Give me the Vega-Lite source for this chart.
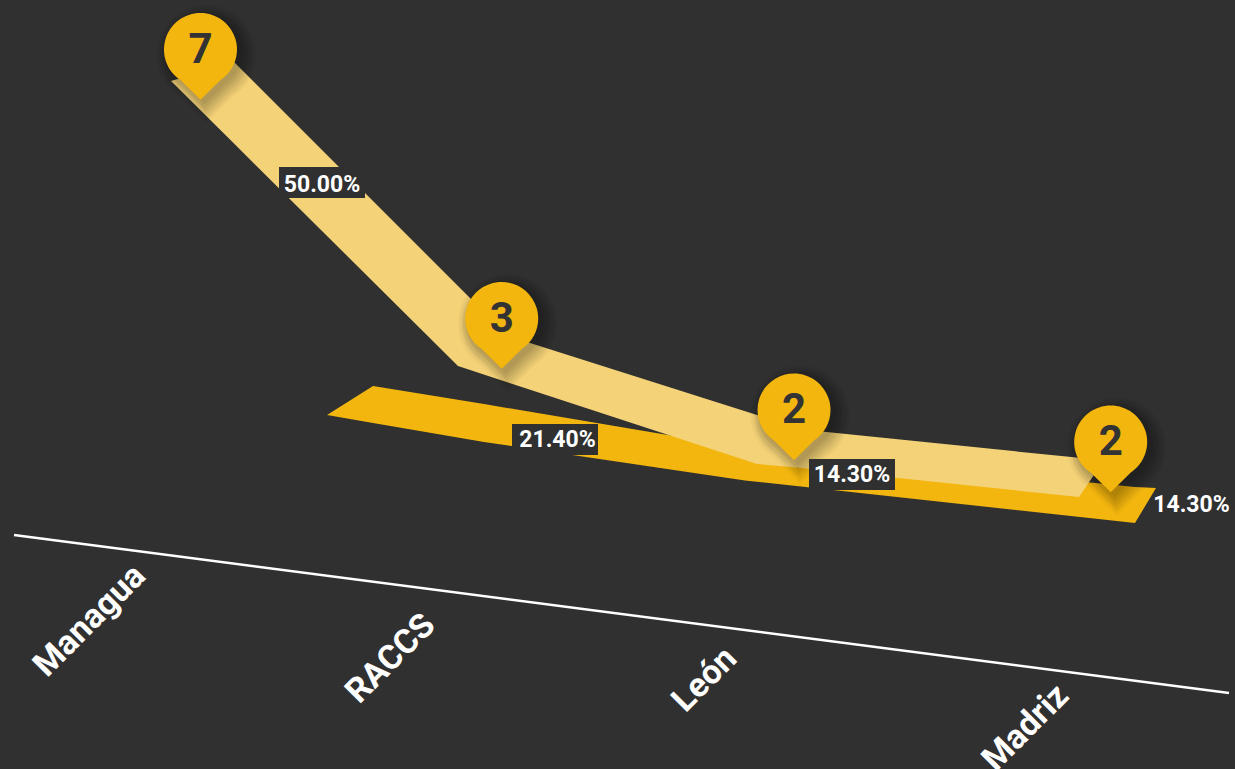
{"$schema":"https://vega.github.io/schema/vega-lite/v6.json","width":1235,"height":769,"autosize":{"type":"none"},"padding":0,"background":"#303030","view":{"stroke":null},
"datasets":{
"share":[{"x":327,"top":415,"bottom":415},{"x":373,"top":386,"bottom":423},{"x":484,"top":404,"bottom":442},{"x":745,"top":448,"bottom":480.5},{"x":1135,"top":487,"bottom":523},{"x":1156,"top":488,"bottom":488}],
"count":[{"x":171,"top":81,"bottom":81},{"x":234,"top":62,"bottom":143.6},{"x":458,"top":286,"bottom":366},{"x":508,"top":336,"bottom":382.4},{"x":757,"top":415,"bottom":464},{"x":802,"top":429.6,"bottom":468},{"x":1079,"top":457.8,"bottom":497},{"x":1104,"top":460,"bottom":460}],
"baseline":[{"x":14,"y":535,"x2":1229,"y2":693}],
"regions":[{"region":"Managua","x":90,"y":621},{"region":"RACCS","x":391,"y":659},{"region":"León","x":705,"y":680},{"region":"Madriz","x":1026,"y":728}],
"pins":[{"region":"Managua","count":7,"x":200.5,"y":49.5},{"region":"RACCS","count":3,"x":501.7,"y":318.5},{"region":"León","count":2,"x":794,"y":410},{"region":"Madriz","count":2,"x":1110.7,"y":442}],
"boxes":[{"x":279,"x2":365,"y":167,"y2":198},{"x":512,"x2":598,"y":424,"y2":455},{"x":809,"x2":895,"y":459,"y2":490}],
"labels":[{"share":"50.00%","x":322,"y":184.5},{"share":"21.40%","x":557.5,"y":440},{"share":"14.30%","x":852,"y":475},{"share":"14.30%","x":1191.5,"y":505}]
},
"encoding":{},
"layer":[
{"data":{"name":"share"},"mark":{"type":"area","color":"#F3B60F","interpolate":"linear"},"encoding":{"x":{"field":"x","type":"quantitative","scale":{"domain":[0,1235],"nice":false,"zero":false},"axis":null},"y":{"field":"top","type":"quantitative","scale":{"domain":[769,0],"nice":false,"zero":false},"axis":null},"y2":{"field":"bottom"}}},
{"data":{"name":"count"},"mark":{"type":"area","color":"#F4D277","interpolate":"linear"},"encoding":{"x":{"field":"x","type":"quantitative"},"y":{"field":"top","type":"quantitative"},"y2":{"field":"bottom"}}},
{"data":{"name":"baseline"},"mark":{"type":"rule","color":"#ffffff","strokeWidth":2.5},"encoding":{"x":{"field":"x","type":"quantitative"},"y":{"field":"y","type":"quantitative"},"x2":{"field":"x2"},"y2":{"field":"y2"}}},
{"data":{"name":"regions"},"mark":{"type":"text","color":"#ffffff","font":"Roboto","fontWeight":"bold","fontSize":34,"angle":-45,"align":"center","baseline":"middle"},"encoding":{"x":{"field":"x","type":"quantitative"},"y":{"field":"y","type":"quantitative"},"text":{"field":"region"}}},
{"data":{"name":"pins"},"layer":[
{"mark":{"type":"point","filled":true,"color":"#000000","opacity":0.025,"strokeWidth":0,"size":10000,"xOffset":6,"yOffset":5,"shape":"M -0.55 0.835 A 1 1 0 1 1 0.55 0.835 L 0 1.38 Z"}},
{"mark":{"type":"point","filled":true,"color":"#000000","opacity":0.03,"strokeWidth":0,"size":9216,"xOffset":6,"yOffset":5,"shape":"M -0.55 0.835 A 1 1 0 1 1 0.55 0.835 L 0 1.38 Z"}},
{"mark":{"type":"point","filled":true,"color":"#000000","opacity":0.04,"strokeWidth":0,"size":8464,"xOffset":6,"yOffset":5,"shape":"M -0.55 0.835 A 1 1 0 1 1 0.55 0.835 L 0 1.38 Z"}},
{"mark":{"type":"point","filled":true,"color":"#000000","opacity":0.05,"strokeWidth":0,"size":7744,"xOffset":5,"yOffset":5,"shape":"M -0.55 0.835 A 1 1 0 1 1 0.55 0.835 L 0 1.38 Z"}},
{"mark":{"type":"point","filled":true,"color":"#000000","opacity":0.05,"strokeWidth":0,"size":7056,"xOffset":5,"yOffset":4,"shape":"M -0.55 0.835 A 1 1 0 1 1 0.55 0.835 L 0 1.38 Z"}},
{"mark":{"type":"point","filled":true,"color":"#000000","opacity":0.05,"strokeWidth":0,"size":6400,"xOffset":4,"yOffset":4,"shape":"M -0.55 0.835 A 1 1 0 1 1 0.55 0.835 L 0 1.38 Z"}},
{"mark":{"type":"point","filled":true,"color":"#000000","opacity":0.05,"strokeWidth":0,"size":5776,"xOffset":4,"yOffset":3,"shape":"M -0.55 0.835 A 1 1 0 1 1 0.55 0.835 L 0 1.38 Z"}},
{"mark":{"type":"point","filled":true,"color":"#F3B60F","opacity":1,"strokeWidth":0,"size":5329,"shape":"M -0.55 0.835 A 1 1 0 1 1 0.55 0.835 L 0 1.38 Z"}},
{"mark":{"type":"text","color":"#333333","font":"Roboto","fontWeight":"bold","fontSize":42,"align":"center","baseline":"middle"},"encoding":{"text":{"field":"count"}}}
],"encoding":{"x":{"field":"x","type":"quantitative"},"y":{"field":"y","type":"quantitative"}}},
{"data":{"name":"boxes"},"mark":{"type":"rect","color":"#303030"},"encoding":{"x":{"field":"x","type":"quantitative"},"x2":{"field":"x2"},"y":{"field":"y","type":"quantitative"},"y2":{"field":"y2"}}},
{"data":{"name":"labels"},"mark":{"type":"text","color":"#ffffff","font":"Roboto","fontWeight":"bold","fontSize":23,"align":"center","baseline":"middle"},"encoding":{"x":{"field":"x","type":"quantitative"},"y":{"field":"y","type":"quantitative"},"text":{"field":"share"}}}
]}
